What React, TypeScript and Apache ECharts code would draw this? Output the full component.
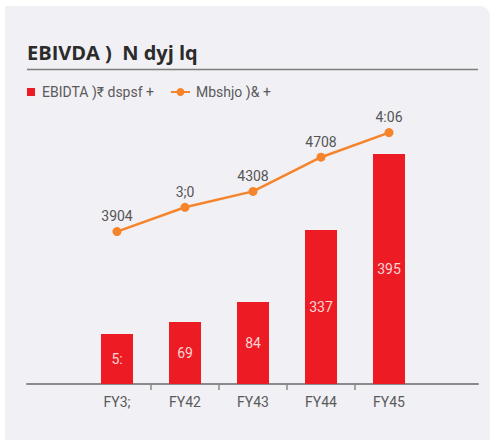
import React, { useEffect, useRef } from "react";
import * as echarts from "echarts";

const titleText = "EBIVDA )  N dyj lq";
const categories = ["FY3;", "FY42", "FY43", "FY44", "FY45"];
const barName = "EBIDTA )₹ dspsf +";
const lineName = "Mbshjo )& +";
const barValues = [50, 62, 82, 154, 230];
const barLabels = ["5:", "69", "84", "337", "395"];
const lineValues = [50.8, 58.9, 64.2, 75.6, 83.8];
const lineLabels = ["3904", "3;0", "4308", "4708", "4:06"];
const tickSlots = ["", "", "", ""];

const FONT = "Roboto, 'Noto Sans', sans-serif";

export default function App() {
  const ref = useRef<HTMLDivElement>(null);
  useEffect(() => {
    document.body.style.margin = "0";
    const chart = echarts.init(ref.current!, null, { renderer: "svg" });
    const option: any = {
      animation: false,
      backgroundColor: "#ffffff",
      textStyle: { fontFamily: FONT },
      title: {
        text: titleText,
        left: 27,
        top: 40,
        padding: 0,
        textStyle: {
          fontFamily: "'Open Sans', 'Noto Sans', sans-serif",
          fontSize: 20,
          fontWeight: "bold",
          color: "#2b2b2b",
          lineHeight: 24,
        },
      },
      graphic: [
        {
          type: "rect",
          z: -100,
          silent: true,
          shape: { x: 5, y: 6, width: 485, height: 434, r: [0, 10, 0, 0] },
          style: { fill: "#f1f0f5" },
        },
        {
          type: "line",
          silent: true,
          shape: { x1: 27, y1: 69.5, x2: 478, y2: 69.5 },
          style: { stroke: "#7d7d7d", lineWidth: 1.5 },
        },
      ],
      legend: [
        {
          data: [{ name: barName, icon: "rect" }],
          left: 27,
          top: 84,
          padding: 0,
          itemWidth: 8,
          itemHeight: 8,
          itemGap: 20,
          textStyle: { fontFamily: FONT, fontSize: 14, color: "#5a5a5a", lineHeight: 16, padding: [0, 0, 0, 2] },
        },
        {
          data: [{ name: lineName }],
          left: 170,
          top: 84,
          padding: 0,
          itemWidth: 19,
          itemHeight: 10,
          textStyle: { fontFamily: FONT, fontSize: 14, color: "#5a5a5a", lineHeight: 16, padding: [0, 0, 0, 1] },
        },
      ],
      grid: [
        { left: 83, width: 340, top: 84, height: 300 },
        { left: 27, width: 451, top: 84, height: 300 },
        { left: 117, width: 272, top: 84, height: 300 },
      ],
      xAxis: [
        {
          type: "category",
          gridIndex: 0,
          data: categories,
          axisLine: { show: false },
          axisTick: { show: false },
          axisLabel: { margin: 11, fontSize: 14, color: "#5a5a5a", fontFamily: FONT },
        },
        {
          type: "value",
          gridIndex: 1,
          min: 0,
          max: 1,
          axisLine: { show: true, lineStyle: { color: "#8a8a8a", width: 2 } },
          axisTick: { show: false },
          axisLabel: { show: false },
          splitLine: { show: false },
        },
        {
          type: "category",
          gridIndex: 2,
          data: tickSlots,
          axisLine: { show: false },
          axisTick: { show: true, alignWithLabel: true, length: 6, lineStyle: { color: "#8a8a8a", width: 1.5 } },
          axisLabel: { show: false },
        },
      ],
      yAxis: [
        { type: "value", gridIndex: 0, min: 0, max: 300, show: false },
        { type: "value", gridIndex: 0, min: 0, max: 100, show: false },
        { type: "value", gridIndex: 1, show: false },
        { type: "value", gridIndex: 2, show: false },
      ],
      series: [
        {
          name: barName,
          type: "bar",
          xAxisIndex: 0,
          yAxisIndex: 0,
          data: barValues,
          barWidth: 32,
          itemStyle: { color: "#ed1c24" },
          label: {
            show: true,
            position: "inside",
            fontSize: 14,
            fontFamily: FONT,
            color: "#fcd6d6",
            formatter: (p: any) => barLabels[p.dataIndex],
          },
          z: 2,
        },
        {
          name: lineName,
          type: "line",
          xAxisIndex: 0,
          yAxisIndex: 1,
          data: lineValues,
          symbol: "circle",
          symbolSize: 9,
          itemStyle: { color: "#f5842a" },
          lineStyle: { color: "#f5842a", width: 2.5 },
          label: {
            show: true,
            position: "top",
            distance: 4,
            fontSize: 14,
            fontFamily: FONT,
            color: "#555555",
            formatter: (p: any) => lineLabels[p.dataIndex],
          },
          z: 3,
        },
      ],
    };
    chart.setOption(option);
    return () => chart.dispose();
  }, []);
  return <div ref={ref} style={{ width: 490, height: 440 }} />;
}
